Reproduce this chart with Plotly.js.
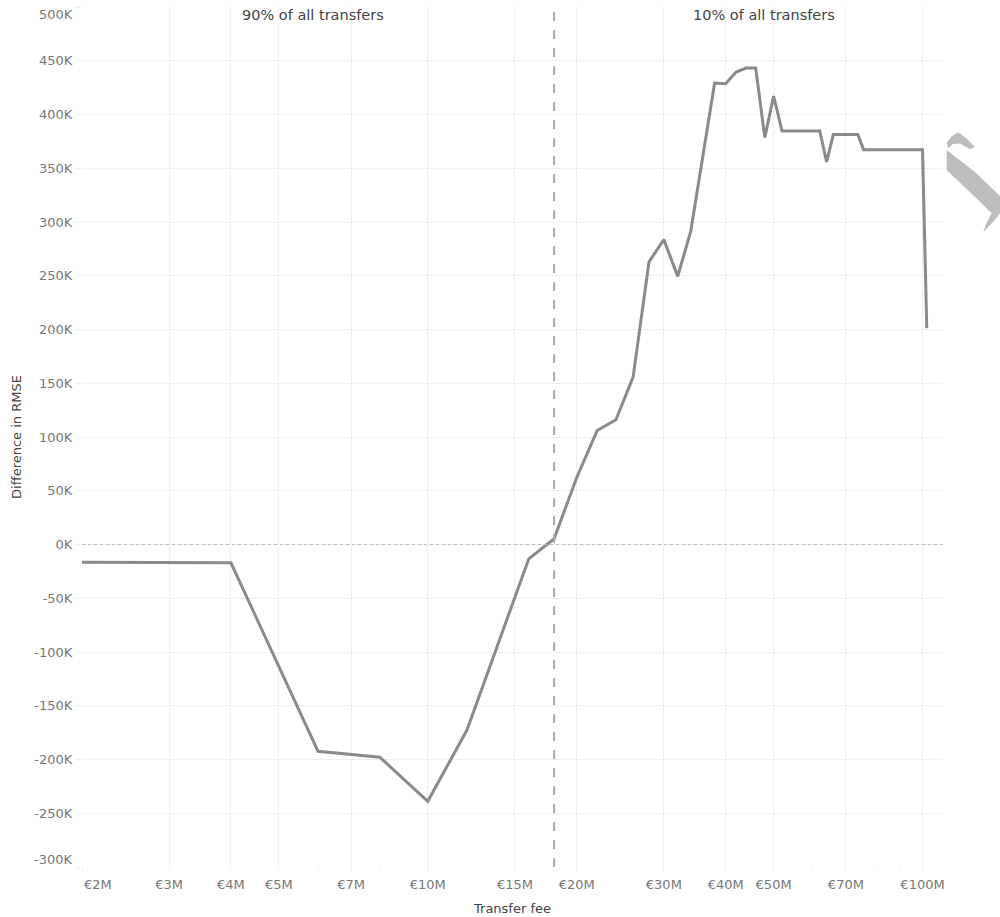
<!DOCTYPE html>
<html>
<head>
<meta charset="utf-8">
<script src="https://cdn.plot.ly/plotly-3.0.1.min.js"></script>
<style>
  html, body { margin: 0; padding: 0; background: #fff; }
  #chart { width: 1000px; height: 917px; }
</style>
</head>
<body>
<div id="chart"></div>
<script>
// Transfer fee (millions of euro)
const feeMillions = [2, 4, 6, 8, 10, 12, 16, 18, 20, 22, 24, 26, 28, 30, 32, 34, 38, 40, 42, 44, 46, 48, 50, 52, 62, 64, 66, 74, 76, 100, 102];
// Difference in RMSE (thousands)
const rmseDiffK = [-16.5, -17, -192.4, -197.9, -238.9, -172.6, -13.3, 5.3, 62.3, 106.1, 116.0, 155.7, 262.9, 283.6, 249.4, 291.3, 429.3, 428.7, 439.5, 443.2, 443.2, 378.5, 417.2, 384.6, 384.6, 355.8, 381.3, 381.3, 367.3, 367.3, 201.3];

// Axis ticks
const xTickMillions = [2, 3, 4, 5, 7, 10, 15, 20, 30, 40, 50, 70, 100];
const xTickText = ['€2M', '€3M', '€4M', '€5M', '€7M', '€10M', '€15M', '€20M', '€30M', '€40M', '€50M', '€70M', '€100M'];
const xMinorMillions = [6, 8, 60, 80, 90];
const yTickK = [-300, -250, -200, -150, -100, -50, 0, 50, 100, 150, 200, 250, 300, 350, 400, 450, 500];
const yTickText = yTickK.map(v => v + 'K');

// Split between the two groups of transfers (millions)
const splitMillions = 18;
const annotationTexts = ['90% of all transfers', '10% of all transfers'];

const M = 1e6, K = 1e3;

const trace = {
  x: feeMillions.map(v => v * M),
  y: rmseDiffK.map(v => v * K),
  type: 'scatter',
  mode: 'lines',
  line: { color: '#8a8a8a', width: 3 },
  hoverinfo: 'x+y',
  showlegend: false
};

// plot area in pixels
const L = 82, R = 943, T = 7, B = 867;
const px2paperX = px => (px - L) / (R - L);
const px2paperY = py => (B - py) / (B - T);
function toPaperPath(pts) {
  return 'M ' + pts.map(p => px2paperX(p[0]).toFixed(4) + ',' + px2paperY(p[1]).toFixed(4)).join(' L ') + ' Z';
}
// decorative clipped watermark at the right edge
const markA = [[946.7,142.7],[952,136],[958.3,132.3],[966,138],[975,146.7],[970,149.3],[960,143.5],[953,144],[948.3,148.3]];
const markB = [[946.7,150],[975,172],[1000,196],[1000,213.3],[993,222],[983.3,232.3],[986,224],[991.7,213.3],[975,197],[946.7,170]];

// edge tick labels are drawn slightly inside in the reference
const lastY = yTickText.length - 1;
const xTickTextShown = xTickText.map((t, i) => i === 0 ? '' : t);
const yTickTextShown = yTickText.map((t, i) => (i === 0 || i === lastY) ? '' : t);

const tickFont = { family: 'DejaVu Sans, Verdana, sans-serif', size: 13, color: '#777' };

const layout = {
  width: 1000,
  height: 917,
  margin: { l: L, r: 1000 - R, t: T, b: 917 - B },
  paper_bgcolor: '#ffffff',
  plot_bgcolor: '#ffffff',
  font: { family: 'DejaVu Sans, Verdana, sans-serif', size: 13, color: '#444' },
  xaxis: {
    type: 'log',
    range: [Math.log10(2 * M), Math.log10(110 * M)],
    tickmode: 'array',
    tickvals: xTickMillions.map(v => v * M),
    ticktext: xTickTextShown,
    tickfont: tickFont,
    ticks: 'outside',
    ticklen: 4,
    tickcolor: '#eeeeee',
    ticklabelstandoff: 1,
    showgrid: true,
    gridcolor: '#eeeeee',
    gridwidth: 1,
    zeroline: false,
    showline: false,
    minor: { tickmode: 'array', tickvals: xMinorMillions.map(v => v * M), ticks: 'outside', ticklen: 3, tickcolor: '#eeeeee', showgrid: false },
    title: { text: 'Transfer fee', font: { size: 13, color: '#444' }, standoff: 13 },
    automargin: false
  },
  yaxis: {
    range: [-300 * K, 500 * K],
    tickmode: 'array',
    tickvals: yTickK.map(v => v * K),
    ticktext: yTickTextShown,
    tickfont: tickFont,
    ticks: 'outside',
    ticklen: 6,
    tickcolor: '#eeeeee',
    showgrid: true,
    gridcolor: '#eeeeee',
    gridwidth: 1,
    zeroline: false,
    showline: false,
    title: { text: 'Difference in RMSE', font: { size: 13, color: '#444' }, standoff: 9 },
    automargin: false
  },
  shapes: [
    { type: 'line', xref: 'paper', yref: 'y', x0: 0, x1: 1, y0: 0, y1: 0,
      line: { color: '#bbbbbb', width: 1, dash: 'dot' } },
    { type: 'line', xref: 'x', yref: 'paper', x0: splitMillions * M, x1: splitMillions * M, y0: 0, y1: 1,
      line: { color: '#aaaaaa', width: 2, dash: 'dash' } },
    { type: 'path', xref: 'paper', yref: 'paper', path: toPaperPath(markA), fillcolor: '#bdbdbd', line: { width: 0 }, layer: 'above' },
    { type: 'path', xref: 'paper', yref: 'paper', path: toPaperPath(markB), fillcolor: '#bdbdbd', line: { width: 0 }, layer: 'above' }
  ],
  annotations: [
    { xref: 'paper', yref: 'paper', x: px2paperX(312.5), y: px2paperY(15), text: annotationTexts[0], showarrow: false,
      xanchor: 'center', yanchor: 'middle', font: { size: 14.5, color: '#444' } },
    { xref: 'paper', yref: 'paper', x: px2paperX(764), y: px2paperY(15), text: annotationTexts[1], showarrow: false,
      xanchor: 'center', yanchor: 'middle', font: { size: 14.5, color: '#444' } },
    // edge tick labels, nudged inside as in the reference
    { xref: 'paper', yref: 'paper', x: px2paperX(98), y: px2paperY(884), text: xTickText[0], showarrow: false,
      xanchor: 'center', yanchor: 'middle', font: tickFont },
    { xref: 'paper', yref: 'paper', x: px2paperX(75), y: px2paperY(15), text: yTickText[lastY], showarrow: false,
      xanchor: 'right', yanchor: 'middle', font: tickFont },
    { xref: 'paper', yref: 'paper', x: px2paperX(75), y: px2paperY(859), text: yTickText[0], showarrow: false,
      xanchor: 'right', yanchor: 'middle', font: tickFont }
  ]
};

Plotly.newPlot('chart', [trace], layout, { displayModeBar: false, staticPlot: true });
</script>
</body>
</html>
